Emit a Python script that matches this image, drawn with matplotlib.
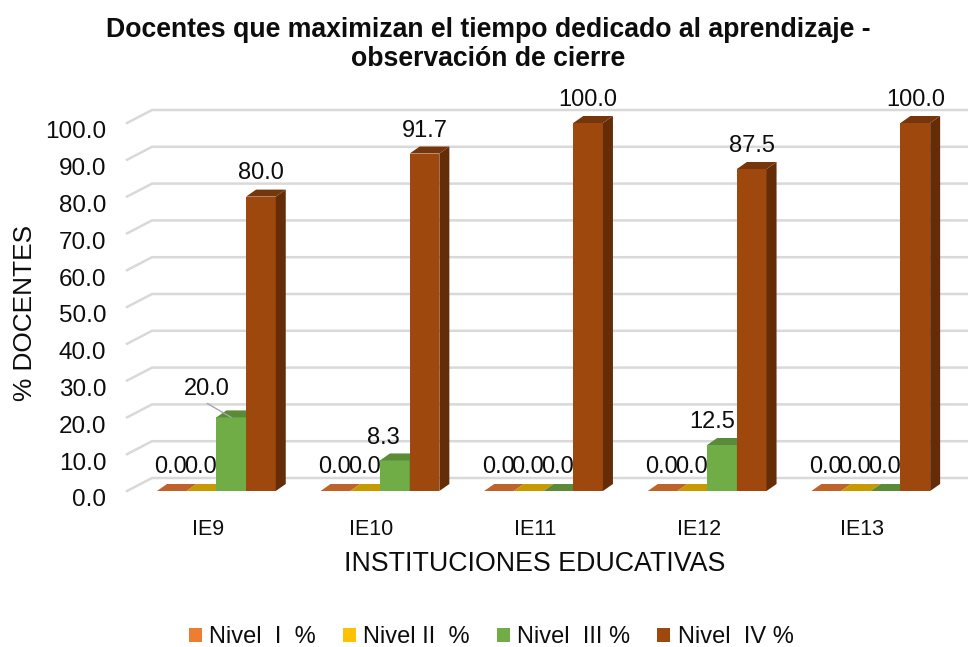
import matplotlib
matplotlib.use("Agg")
import matplotlib.pyplot as plt
from matplotlib.patches import Polygon, Patch
from matplotlib.transforms import ScaledTranslation

plt.rcParams['font.family'] = ['Liberation Sans', 'DejaVu Sans']

institutions = ['IE9', 'IE10', 'IE11', 'IE12', 'IE13']
series_names = ['Nivel  I  %', 'Nivel II  %', 'Nivel  III %', 'Nivel  IV %']
nivel_1 = [0.0, 0.0, 0.0, 0.0, 0.0]
nivel_2 = [0.0, 0.0, 0.0, 0.0, 0.0]
nivel_3 = [20.0, 8.3, 0.0, 12.5, 0.0]
nivel_4 = [80.0, 91.7, 100.0, 87.5, 100.0]
y_ticks = [0, 10, 20, 30, 40, 50, 60, 70, 80, 90, 100]

series = [nivel_1, nivel_2, nivel_3, nivel_4]
front = ['#ED7D31', '#FFC000', '#70AD47', '#9E480E']
top = ['#BE642B', '#C79A00', '#5A8B39', '#76360B']
side = ['#A85722', '#B38900', '#4F7A32', '#642D08']
GRID = '#D9D9D9'
TXT = '#0D0D0D'
W, H = 968, 647
fig = plt.figure(figsize=(W / 100, H / 100), dpi=100, facecolor='white')
ax = fig.add_axes([127 / W, (H - 491) / H, 818 / W, 368 / H])
ax.set_xlim(-0.5, 4.5)
ax.set_ylim(0, 100)
ax.patch.set_visible(False)
for s in ax.spines.values():
    s.set_visible(False)

PX = 1 / 163.6   # data units per pixel, x
PY = 1 / 3.68    # data units per pixel, y
bar_w = 29.7 * PX
start = -51.85 * PX
dep_x, dep_y = 10 * PX, 7 * PY
wall_x, wall_y = 25 * PX, 13 * PY

for t in y_ticks:
    ax.plot([-0.5, -0.5 + wall_x, 4.5 + wall_x], [t, t + wall_y, t + wall_y],
            color=GRID, lw=1.8, clip_on=False, zorder=1, solid_joinstyle='miter')

z = 2
for i in range(len(institutions)):
    for j, vals in enumerate(series):
        v = vals[i]
        x0 = i + start + j * bar_w
        x1 = x0 + bar_w
        ax.bar(x0, v, width=bar_w, align='edge', color=front[j], zorder=z, clip_on=False, lw=0)
        ax.add_patch(Polygon([(x1, 0), (x1 + dep_x, dep_y), (x1 + dep_x, v + dep_y), (x1, v)],
                             closed=True, fc=side[j], ec='none', zorder=z, clip_on=False))
        ax.add_patch(Polygon([(x0, v), (x1, v), (x1 + dep_x, v + dep_y), (x0 + dep_x, v + dep_y)],
                             closed=True, fc=top[j], ec='none', zorder=z, clip_on=False))
        z += 0.1

# data labels (offsets in pixels from the bar's top-centre)
label_shift = {(2, 0): (-24, 28), (2, 1): (-11, 22.5), (2, 3): (-10, 22.5), (3, 0): (0, 24)}
for i in range(len(institutions)):
    for j, vals in enumerate(series):
        v = vals[i]
        if j == 2 and v == 0 and i in (0, 1, 3):
            continue
        cx = i + start + (j + 0.5) * bar_w
        ox, oy = label_shift.get((j, i), (-1 if v == 0 else 0, 24 if v == 0 else 22.5))
        ax.annotate(f'{v:.1f}', (cx, v), xytext=(ox * 0.72, oy * 0.72), textcoords='offset points',
                    ha='center', va='center', fontsize=17, color=TXT, zorder=50,
                    annotation_clip=False)

# leader line for the 20.0 label
cx = start + 2.5 * bar_w
ax.annotate('', (cx, nivel_3[0]), xytext=(-24 * 0.72, 14 * 0.72), textcoords='offset points',
            arrowprops=dict(arrowstyle='-', color='#A6A6A6', lw=1, shrinkA=0, shrinkB=0), zorder=40)

ax.set_xticks(range(len(institutions)))
ax.set_xticklabels(institutions, fontsize=15.5, color=TXT)
ax.set_yticks(y_ticks)
ax.set_yticklabels([f'{t:.1f}' for t in y_ticks], fontsize=17.5, color=TXT)
ax.tick_params(axis='both', length=0)
ax.tick_params(axis='y', pad=15)
ax.tick_params(axis='x', pad=20.5)
shift = ScaledTranslation(0, -7 / 100, fig.dpi_scale_trans)
for lab in ax.get_yticklabels():
    lab.set_transform(lab.get_transform() + shift)
xshift = ScaledTranslation(-1 / 100, 0, fig.dpi_scale_trans)
for lab in ax.get_xticklabels():
    lab.set_transform(lab.get_transform() + xshift)

fig.text(25 / W, 1 - 312.5 / H, '% DOCENTES', rotation=90, ha='center', va='center',
         fontsize=18.9, color=TXT)
fig.text(535 / W, 1 - 564 / H, 'INSTITUCIONES EDUCATIVAS', ha='center', va='center',
         fontsize=19.3, color=TXT)
fig.text(488.5 / W, 1 - 44.5 / H,
         'Docentes que maximizan el tiempo dedicado al aprendizaje -\nobservación de cierre',
         ha='center', va='center', fontsize=19.2, fontweight='bold', color=TXT, linespacing=1.13)

handles = [Patch(fc=c, ec='none') for c in front]
fig.legend(handles, series_names, loc='center', bbox_to_anchor=(491 / W, 1 - 637 / H), ncol=4,
           frameon=False, fontsize=17, handlelength=0.55, handleheight=0.55, handletextpad=0.3,
           columnspacing=1.16, labelcolor=TXT, borderpad=0, borderaxespad=0)

fig.savefig('out.png', dpi=100, facecolor='white')
